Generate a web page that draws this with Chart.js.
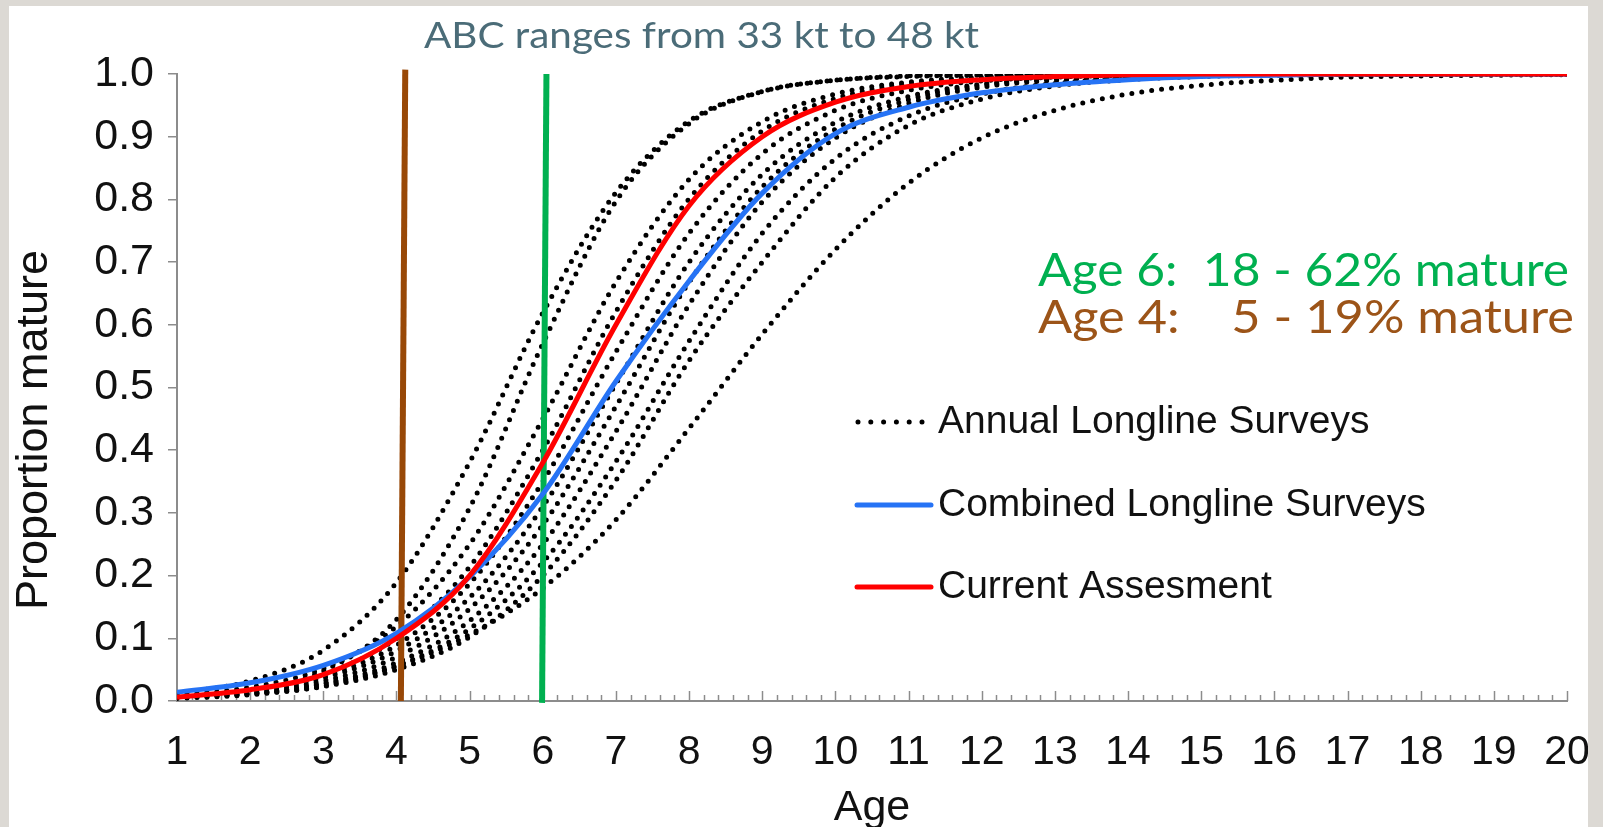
<!DOCTYPE html>
<html>
<head>
<meta charset="utf-8">
<script src="https://cdn.jsdelivr.net/npm/chart.js@4.4.1/dist/chart.umd.min.js"></script>
<style>
  html, body { margin: 0; padding: 0; width: 1603px; height: 827px; overflow: hidden; background: #dcd9d4; }
  #panel { position: absolute; left: 9px; top: 6px; width: 1579px; height: 821px; background: #fff; }
  #wrap { position: absolute; left: 0; top: 0; width: 1603px; height: 827px; }
  #edge { position: absolute; left: 1588px; top: 0; width: 15px; height: 827px; background: #dcd9d4; }
</style>
</head>
<body>
<div id="panel"></div>
<div id="wrap"><canvas id="c" width="1603" height="827"></canvas></div>
<div id="edge"></div>
<script>
/* Proportion mature by age: annual vs combined longline surveys vs current assessment */
const ages = [1, 2, 3, 4, 5, 6, 7, 8, 9, 10, 11, 12, 13, 14, 15, 16, 17, 18, 19, 20];
const yTicks = [0, 0.1, 0.2, 0.3, 0.4, 0.5, 0.6, 0.7, 0.8, 0.9, 1.0];

const currentAssessment = [0.006, 0.018, 0.042, 0.10, 0.20, 0.38, 0.60, 0.79, 0.90, 0.955, 0.98, 0.991, 0.996, 0.999, 1, 1, 1, 1, 1, 1];
const combinedSurveys = [0.014, 0.029, 0.057, 0.108, 0.198, 0.33, 0.51, 0.67, 0.81, 0.905, 0.947, 0.97, 0.983, 0.991, 0.996, 0.998, 1, 1, 1, 1];

// one row per annual survey
const annualSurveys = [
  [0.012, 0.032, 0.081, 0.189, 0.381, 0.619, 0.811, 0.925, 0.972, 0.99, 0.996, 0.998, 0.999, 1, 1, 1, 1, 1, 1, 1],
  [0.006, 0.017, 0.048, 0.130, 0.308, 0.570, 0.797, 0.921, 0.972, 0.990, 0.997, 0.999, 1, 1, 1, 1, 1, 1, 1, 1],
  [0.009, 0.022, 0.052, 0.119, 0.250, 0.450, 0.668, 0.832, 0.924, 0.968, 0.987, 0.995, 0.998, 0.999, 1, 1, 1, 1, 1, 1],
  [0.007, 0.018, 0.043, 0.100, 0.214, 0.400, 0.621, 0.801, 0.909, 0.961, 0.984, 0.993, 0.997, 0.999, 1, 1, 1, 1, 1, 1],
  [0.008, 0.018, 0.040, 0.089, 0.187, 0.350, 0.557, 0.746, 0.873, 0.942, 0.974, 0.989, 0.995, 0.998, 0.999, 1, 1, 1, 1, 1],
  [0.007, 0.017, 0.037, 0.080, 0.165, 0.310, 0.506, 0.700, 0.840, 0.923, 0.964, 0.984, 0.993, 0.997, 0.999, 1, 1, 1, 1, 1],
  [0.006, 0.015, 0.032, 0.070, 0.147, 0.281, 0.470, 0.668, 0.820, 0.912, 0.959, 0.982, 0.992, 0.996, 0.998, 0.999, 1, 1, 1, 1],
  [0.006, 0.012, 0.028, 0.061, 0.128, 0.250, 0.430, 0.632, 0.796, 0.898, 0.953, 0.979, 0.990, 0.996, 0.998, 0.999, 1, 1, 1, 1],
  [0.006, 0.012, 0.027, 0.056, 0.115, 0.221, 0.382, 0.574, 0.746, 0.865, 0.933, 0.968, 0.985, 0.993, 0.997, 0.999, 1, 1, 1, 1],
  [0.005, 0.011, 0.023, 0.050, 0.102, 0.200, 0.352, 0.543, 0.700, 0.835, 0.918, 0.960, 0.981, 0.991, 0.996, 0.998, 0.999, 1, 1, 1],
  [0.004, 0.010, 0.024, 0.055, 0.106, 0.180, 0.289, 0.435, 0.585, 0.720, 0.826, 0.898, 0.942, 0.968, 0.982, 0.990, 0.995, 0.997, 0.998, 0.999],
];

// the two marker lines at age 4 and age 6 (hand drawn, slightly slanted)
const age4Line = [[4.06, 0], [4.12, 1.007]];
const age6Line = [[5.99, -0.003], [6.05, 1.0]];

const titleText = "ABC ranges from 33 kt to 48 kt";
const noteAge6 = "Age 6:  18 - 62% mature";
const noteAge4 = "Age 4:    5 - 19% mature";
const legendItems = ["Annual Longline Surveys", "Combined Longline Surveys", "Current Assesment"];

const C = {
  red: "#ff0000",
  blue: "#2673f5",
  brown: "#984807",
  green: "#00b050",
  noteBrown: "#9c5418",
  axis: "#8c8c8c",
  title: "#4b6c78",
  text: "#111",
};
const SANS = "'Liberation Sans', Arial, sans-serif";

const toPts = (vals) => ages.map((a, i) => ({ x: a, y: vals[i] }));
const toXY = (pairs) => pairs.map((p) => ({ x: p[0], y: p[1] }));

function fitText(ctx, text, left, midY, width, font, color) {
  ctx.save();
  ctx.font = font;
  ctx.fillStyle = color;
  ctx.textBaseline = "middle";
  ctx.textAlign = "left";
  const w = ctx.measureText(text).width;
  ctx.translate(left, midY);
  ctx.scale(width / w, 1);
  ctx.fillText(text, 0, 0);
  ctx.restore();
}

const overlay = {
  id: "overlay",
  beforeDatasetsDraw(chart) {
    const { ctx, chartArea } = chart;
    const x = chart.scales.x;
    ctx.save();
    ctx.strokeStyle = C.axis;
    ctx.lineWidth = 1.5;
    for (let i = 0; i <= 95; i++) {
      const px = Math.round(x.getPixelForValue(1 + i * 0.2)) + 0.5;
      const len = i % 5 === 0 ? 10 : 6;
      ctx.beginPath();
      ctx.moveTo(px, chartArea.bottom);
      ctx.lineTo(px, chartArea.bottom - len);
      ctx.stroke();
    }
    ctx.restore();
  },
  afterDraw(chart) {
    const { ctx } = chart;
    fitText(ctx, titleText, 424, 36, 555, "36px Lato", C.title);
    fitText(ctx, noteAge6, 1038, 271, 531, "46px Lato", C.green);
    fitText(ctx, noteAge4, 1038, 318, 536, "46px Lato", C.noteBrown);

    // y axis title
    ctx.save();
    ctx.translate(35, 430);
    ctx.rotate(-Math.PI / 2);
    ctx.font = "45px " + SANS;
    ctx.fillStyle = C.text;
    ctx.textAlign = "center";
    ctx.textBaseline = "middle";
    ctx.fillText("Proportion mature", 0, 0);
    ctx.restore();

    // legend
    const rows = [422, 505, 587];
    ctx.save();
    ctx.lineCap = "round";
    ctx.strokeStyle = "#000";
    ctx.lineWidth = 5;
    ctx.setLineDash([0, 12.8]);
    ctx.beginPath();
    ctx.moveTo(858, rows[0]);
    ctx.lineTo(928, rows[0]);
    ctx.stroke();
    ctx.setLineDash([]);
    [[C.blue, rows[1]], [C.red, rows[2]]].forEach(([col, y]) => {
      ctx.strokeStyle = col;
      ctx.beginPath();
      ctx.moveTo(857, y);
      ctx.lineTo(931, y);
      ctx.stroke();
    });
    ctx.font = "39px " + SANS;
    ctx.fillStyle = C.text;
    ctx.textBaseline = "middle";
    legendItems.forEach((t, i) => ctx.fillText(t, 938, rows[i]));
    ctx.restore();
  },
};

const datasets = [
  { data: toPts(currentAssessment), borderColor: C.red, borderWidth: 5, cubicInterpolationMode: "monotone" },
  { data: toPts(combinedSurveys), borderColor: C.blue, borderWidth: 5, cubicInterpolationMode: "monotone" },
  { data: toXY(age4Line), borderColor: C.brown, borderWidth: 6, clip: false },
  { data: toXY(age6Line), borderColor: C.green, borderWidth: 6, clip: false },
].concat(
  annualSurveys.map((vals) => ({
    data: toPts(vals),
    borderColor: "#000",
    borderWidth: 5,
    borderDash: [0, 10],
    borderCapStyle: "round",
    cubicInterpolationMode: "monotone",
  }))
);

Chart.defaults.font.family = SANS;

new Chart(document.getElementById("c"), {
  type: "line",
  data: { datasets },
  options: {
    responsive: false,
    animation: false,
    devicePixelRatio: 1,
    layout: { padding: { left: 0, right: 36, top: 74, bottom: 0 } },
    elements: { point: { radius: 0 } },
    plugins: { legend: { display: false }, tooltip: { enabled: false }, title: { display: false } },
    scales: {
      x: {
        type: "linear",
        min: 1,
        max: 20,
        ticks: { stepSize: 1, color: C.text, font: { size: 41 }, padding: 27, maxRotation: 0, autoSkip: false },
        grid: { display: false, drawTicks: false },
        border: { display: true, color: C.axis, width: 2 },
        title: { display: true, text: "Age", color: C.text, font: { size: 43, lineHeight: 0.88 }, padding: 0 },
        afterFit(s) { s.height = 126; s.paddingRight = 0; s.paddingLeft = 0; },
      },
      y: {
        min: 0,
        max: 1,
        afterBuildTicks(s) { s.ticks = yTicks.map((v) => ({ value: v })); },
        ticks: { color: C.text, font: { size: 43 }, padding: 14, callback: (v) => Number(v).toFixed(1) },
        grid: { display: true, drawOnChartArea: false, drawTicks: true, tickLength: 9, color: C.axis, lineWidth: 1.5 },
        border: { display: true, color: C.axis, width: 2 },
        afterFit(s) { s.width = 177; s.paddingTop = 0; s.paddingBottom = 0; },
      },
    },
  },
  plugins: [overlay],
});
</script>
</body>
</html>
